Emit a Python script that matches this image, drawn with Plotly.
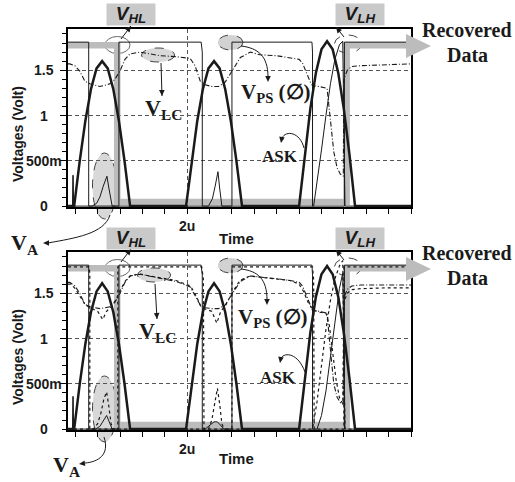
import math
import plotly.graph_objects as go

# ---------------- data (time in us, voltage in V) ----------------
ask_t = [0.935, 0.99, 1.04, 1.09, 1.14, 1.19, 1.24, 1.29, 1.34, 1.39, 1.44, 1.49,
         1.99, 2.04, 2.09, 2.14, 2.19, 2.24, 2.29, 2.34, 2.39, 2.44, 2.49,
         3.00, 3.05, 3.10, 3.15, 3.20, 3.25, 3.30, 3.35, 3.40, 3.45, 3.50, 4.0]
ask_top_v = [0, 0, 0.50, 0.94, 1.29, 1.52, 1.60, 1.52, 1.29, 0.94, 0.50, 0,
             0, 0.50, 0.94, 1.29, 1.52, 1.60, 1.52, 1.29, 0.94, 0.50, 0,
             0, 0.57, 1.07, 1.47, 1.73, 1.82, 1.73, 1.47, 1.07, 0.57, 0, 0]
ask_bot_v = [0, 0, 0.50, 0.94, 1.29, 1.52, 1.61, 1.52, 1.29, 0.94, 0.50, 0,
             0, 0.50, 0.94, 1.29, 1.52, 1.61, 1.52, 1.29, 0.94, 0.50, 0,
             0, 0.56, 1.06, 1.46, 1.71, 1.80, 1.71, 1.46, 1.06, 0.56, 0, 0]

# recovered data (grey highlight)
rec_t = [0.935, 1.375, 1.375, 3.425, 3.425, 3.99]
rec_v = [1.775, 1.775, 0.045, 0.045, 1.775, 1.775]

# comparator / phase-shift square signal
s1_t = [0.935, 1.12, 1.12, 1.39, 1.39, 2.125, 2.135, 2.135, 2.40, 2.40,
        3.115, 3.12, 3.12, 3.405, 3.405, 4.0]
s1_v = [1.81, 1.81, 0, 0, 1.81, 1.81, 1.70, 0, 0, 1.81,
        1.81, 1.70, 0, 0, 1.81, 1.81]
s1b_t = [0.935, 1.125, 1.13, 1.13, 1.38, 1.38, 2.13, 2.145, 2.15, 2.40, 2.40,
         3.12, 3.13, 3.135, 3.40, 3.40, 4.0]
s1b_v = [1.79, 1.79, 1.70, 0, 0, 1.79, 1.79, 1.65, 0, 0, 1.79,
         1.79, 1.65, 0, 0, 1.79, 1.79]

# V_LC
vlc_t = [0.935, 0.951, 0.996, 1.04, 1.085, 1.13, 1.22, 1.31, 1.354, 1.399, 1.444,
         1.489, 1.578, 1.758, 1.90, 2.027, 2.07, 2.117, 2.16, 2.22, 2.28, 2.34,
         2.40, 2.475, 2.565, 2.65, 2.80, 2.92, 3.00, 3.03, 3.07, 3.10, 3.12, 3.18,
         3.25, 3.27, 3.29, 3.31, 3.34, 3.37, 3.395, 3.40, 3.43, 3.47, 3.55, 3.80, 4.0]
vlc_top_v = [1.57, 1.57, 1.55, 1.49, 1.38, 1.35, 1.32, 1.35, 1.40, 1.49, 1.62,
             1.68, 1.70, 1.66, 1.65, 1.63, 1.55, 1.38, 1.34, 1.32, 1.32, 1.37,
             1.49, 1.64, 1.70, 1.67, 1.66, 1.64, 1.62, 1.58, 1.45, 1.37, 1.33, 1.32,
             1.30, 1.05, 0.80, 0.60, 0.42, 0.35, 0.33, 1.40, 1.50, 1.54, 1.55, 1.56, 1.57]
vlc_bot_v = [1.62, 1.62, 1.58, 1.50, 1.38, 1.35, 1.33, 1.35, 1.40, 1.50, 1.62,
             1.69, 1.71, 1.67, 1.63, 1.57, 1.48, 1.37, 1.34, 1.33, 1.33, 1.37,
             1.49, 1.63, 1.69, 1.68, 1.66, 1.64, 1.62, 1.58, 1.45, 1.36, 1.31, 1.30,
             1.28, 1.00, 0.72, 0.50, 0.35, 0.29, 0.27, 1.45, 1.54, 1.58, 1.59, 1.59, 1.59]
vlc2_t = [0.935, 0.96, 1.00, 1.05, 1.09, 1.15, 1.20, 1.245, 1.28, 1.32, 1.36, 1.40,
          1.45, 1.50, 1.58, 1.76, 1.90, 2.03, 2.08, 2.12, 2.17, 2.22, 2.265, 2.30,
          2.34, 2.40, 2.47, 2.56, 2.70, 2.92, 3.00, 3.04, 3.08, 3.12, 3.18, 3.24,
          3.27, 3.30, 3.33, 3.36, 3.39, 3.40, 3.43, 3.47, 3.55, 3.80, 4.0]
vlc2_bot_v = [1.60, 1.60, 1.55, 1.45, 1.37, 1.33, 1.30, 1.21, 1.30, 1.35, 1.42, 1.53,
              1.64, 1.70, 1.71, 1.67, 1.64, 1.58, 1.47, 1.36, 1.32, 1.30, 1.17, 1.30,
              1.36, 1.50, 1.64, 1.69, 1.67, 1.64, 1.60, 1.52, 1.40, 1.32, 1.29, 1.28,
              1.15, 0.85, 0.55, 0.35, 0.28, 1.40, 1.50, 1.54, 1.55, 1.56, 1.56]

# V_A
va_top_t = [0.935, 0.975, 0.978, 0.982, 0.985, 1.15, 1.19, 1.22, 1.25, 1.283, 1.30,
            1.32, 1.33, 2.19, 2.225, 2.25, 2.275, 2.29, 2.31, 3.13, 3.16, 3.20,
            3.24, 3.28, 3.32, 3.36, 3.39, 3.40, 3.41, 4.0]
va_top_v = [0, 0, 0.34, 0.34, 0, 0, 0.03, 0.10, 0.22, 0.33, 0.20,
            0.03, 0, 0, 0.08, 0.22, 0.38, 0.20, 0, 0, 0.25, 0.62,
            1.00, 1.35, 1.62, 1.78, 1.82, 0.90, 0, 0]
va_bot_t = [0.935, 0.975, 0.978, 0.982, 0.985, 1.18, 1.22, 1.25, 1.28, 1.30, 1.33,
            2.16, 2.20, 2.24, 2.27, 2.30, 2.33, 3.16, 3.20, 3.24, 3.28, 3.32,
            3.36, 3.39, 3.40, 3.41, 4.0]
va_bot_v = [0, 0, 0.36, 0.36, 0, 0, 0.03, 0.09, 0.15, 0.09, 0,
            0, 0.04, 0.08, 0.08, 0.04, 0, 0, 0.15, 0.42, 0.80, 1.20,
            1.55, 1.72, 0.90, 0, 0]
va2_bot_t = [0.935, 1.16, 1.20, 1.23, 1.255, 1.28, 1.30, 1.32, 1.34, 2.19, 2.22,
             2.245, 2.27, 2.29, 2.31, 2.33, 3.12, 3.16, 3.20, 3.24, 3.28, 3.32,
             3.36, 3.39, 3.40, 3.41, 4.0]
va2_bot_v = [0, 0, 0.06, 0.18, 0.33, 0.41, 0.25, 0.06, 0, 0, 0.10,
             0.30, 0.45, 0.28, 0.06, 0, 0, 0.30, 0.72, 1.10, 1.42, 1.66,
             1.80, 1.86, 0.90, 0, 0]

y_tick_vals = [0, 0.5, 1, 1.5]
y_tick_text = ["0", "500m", "1", "1.5"]
x_tick_vals = [2]
x_tick_text = ["2u"]

# ---------------- layout geometry ----------------
W, H = 515, 482
ML, MR, MT, MB = 68, 104, 29, 52
X_RANGE = [0.935, 4.0]
Y_RANGE = [-0.01, 1.955]
TOP_DOM = [0.5561, 1.0]
BOT_DOM = [0.0, 0.4439]
SANS = "Liberation Sans"
SERIF = "Liberation Serif"
INK = "#1a1a1a"
GREY = "#bcbcbc"


def px(xp):
    return (xp - ML) / (W - ML - MR)


def py(yp):
    return (H - MB - yp) / (H - MT - MB)


fig = go.Figure()


def add_line(t, v, ax, width=1.0, dash="solid", color=INK):
    fig.add_trace(go.Scatter(x=t, y=v, xaxis=ax[0], yaxis=ax[1], mode="lines",
                             line=dict(color=color, width=width, dash=dash),
                             showlegend=False, hoverinfo="skip"))


DASHDOT = "5px,2px,1px,2px"
for ax, ask_v, vlc_v in ((("x", "y"), ask_top_v, vlc_top_v),
                         (("x2", "y2"), ask_bot_v, vlc_bot_v)):
    add_line(rec_t, rec_v, ax, width=6.5, color=GREY)
    if ax[0] == "x2":
        add_line(vlc2_t, vlc2_bot_v, ax, width=1.2, dash="dot")
        add_line(va2_bot_t, va2_bot_v, ax, width=1.2, dash="dot")
        add_line(s1b_t, s1b_v, ax, width=1.2, dash="dot")
        add_line(va_bot_t, va_bot_v, ax, width=1.0)
    else:
        add_line(va_top_t, va_top_v, ax, width=1.0)
    add_line(vlc_t, vlc_v, ax, width=1.1, dash=DASHDOT)
    add_line(s1_t, s1_v, ax, width=1.0)
    add_line(ask_t, ask_v, ax, width=2.5)

xa = dict(range=X_RANGE, showline=True, mirror=True, linewidth=2, linecolor="black",
          ticks="outside", ticklen=5, tickwidth=1, tickcolor="black",
          tickmode="array", tickvals=x_tick_vals, ticktext=x_tick_text,
          tickfont=dict(family=SANS, size=14, color=INK, weight="bold"),
          showgrid=True, gridcolor="#555555", griddash="4px,3px", gridwidth=1,
          zeroline=False,
          minor=dict(tickmode="linear", tick0=0, dtick=0.2, ticks="outside",
                     ticklen=5, tickcolor="black", showgrid=False))
ya = dict(range=Y_RANGE, showline=True, mirror=True, linewidth=2, linecolor="black",
          ticks="outside", ticklen=6, tickwidth=1, tickcolor="black",
          tickmode="array", tickvals=y_tick_vals[1:], showticklabels=False,
          showgrid=True, gridcolor="#555555", griddash="4px,3px", gridwidth=1,
          zeroline=False,
          minor=dict(tickmode="linear", tick0=0, dtick=0.1, ticks="outside",
                     ticklen=4, tickcolor="black", showgrid=False))

fig.update_layout(
    width=W, height=H, margin=dict(l=ML, r=MR, t=MT, b=MB),
    paper_bgcolor="white", plot_bgcolor="rgba(0,0,0,0)", showlegend=False,
    xaxis=dict(xa, anchor="y"), yaxis=dict(ya, domain=TOP_DOM, anchor="x"),
    xaxis2=dict(xa, anchor="y2"), yaxis2=dict(ya, domain=BOT_DOM, anchor="x2"),
)

shapes = []
ann = []


def ellipse(cx, cy, w, h, fill=None, dash="dash", color="#444"):
    shapes.append(dict(type="circle", xref="paper", yref="paper",
                       x0=px(cx - w / 2), x1=px(cx + w / 2),
                       y0=py(cy + h / 2), y1=py(cy - h / 2),
                       fillcolor=fill if fill else "rgba(0,0,0,0)",
                       line=dict(color=color, width=1, dash=dash), layer="below"))


def text(xp, yp, s, size, family, angle=0):
    ann.append(dict(xref="paper", yref="paper", x=px(xp), y=py(yp), text=s,
                    showarrow=False, xanchor="center", yanchor="middle",
                    textangle=angle, font=dict(family=family, size=size, color=INK)))


def head(hx, hy, tx, ty, length=6.0, half=2.8):
    d = math.hypot(hx - tx, hy - ty)
    ux, uy = (hx - tx) / d, (hy - ty) / d
    bx, by = hx - ux * length, hy - uy * length
    p1 = (bx - uy * half, by + ux * half)
    p2 = (bx + uy * half, by - ux * half)
    shapes.append(dict(type="path", xref="paper", yref="paper",
                       path="M %f %f L %f %f L %f %f Z" % (
                           px(hx), py(hy), px(p1[0]), py(p1[1]), px(p2[0]), py(p2[1])),
                       fillcolor=INK, line=dict(width=0)))


def arrow(hx, hy, tx, ty):
    shapes.append(dict(type="line", xref="paper", yref="paper",
                       x0=px(tx), y0=py(ty), x1=px(hx), y1=py(hy),
                       line=dict(color=INK, width=1)))
    head(hx, hy, tx, ty)


def curve(pts):
    (x0, y0), (c1x, c1y), (c2x, c2y), (x1, y1) = pts
    p = "M %f %f C %f %f, %f %f, %f %f" % (px(x0), py(y0), px(c1x), py(c1y),
                                           px(c2x), py(c2y), px(x1), py(y1))
    shapes.append(dict(type="path", xref="paper", yref="paper", path=p,
                       line=dict(color=INK, width=1)))


for oy, panel in ((0, "top"), (223, "bot")):
    top = 29 + oy
    # ellipses
    ellipse(117.5, 45 + oy, 25, 17, dash="solid", color="#666")
    ellipse(104.5, 186 + oy, 24, 66, fill="#d8d8d8")
    ellipse(158 if panel == "top" else 154, 55 + oy if panel == "top" else 275, 33, 14,
            fill="#d8d8d8")
    ellipse(230.5, 42.5 + oy, 25, 15, fill="#d2d2d2")
    ellipse(348, 44 + oy, 27, 18)
    # grey arrow head of recovered data
    shapes.append(dict(type="path", xref="paper", yref="paper",
                       path="M %f %f L %f %f L %f %f Z" % (
                           px(406), py(34 + oy), px(406), py(58 + oy), px(431), py(46 + oy)),
                       fillcolor=GREY, line=dict(width=0), layer="above"))
    # label boxes
    for cx, lab in ((131, "HL"), (360, "LH")):
        ann.append(dict(xref="paper", yref="paper", x=px(cx), y=py(top - 14),
                        text="<b><i>V<sub>%s</sub></i></b>" % lab, showarrow=False,
                        xanchor="center", yanchor="middle", width=46, height=19,
                        bgcolor="#c9c9c9", borderpad=1,
                        font=dict(family=SANS, size=19, color=INK)))
    arrow(131, top - 3, 121, top + 10)
    arrow(336, top - 2, 344, top + 8)
    # recovered data text
    text(467, top + 1, "<b>Recovered</b>", 20, SERIF)
    text(467, top + 26, "<b>Data</b>", 20, SERIF)
    # axis titles and y tick labels
    text(18, 134 + oy, "<b>Voltages (Volt)</b>", 14, SANS, angle=-90)
    text(236, 238 + oy if panel == "top" else 458, "<b>Time</b>", 15, SANS)
    yr = "y" if panel == "top" else "y2"
    for v, s in zip(y_tick_vals, y_tick_text):
        ann.append(dict(xref="paper", yref=yr, x=px(44), y=v, text="<b>%s</b>" % s,
                        showarrow=False, xanchor="center", yanchor="middle",
                        font=dict(family=SANS, size=14, color=INK)))

# --- top panel labels ---
text(163, 109, "<b>V<sub>LC</sub></b>", 22, SERIF)
arrow(162, 96, 161, 63)
text(276, 93, "<b>V<sub>PS</sub> (\u2205)</b>", 21, SERIF)
curve([(241, 46), (258, 48), (268, 56), (268, 77)])
head(268, 82, 268, 76)
text(280, 156, "<b>ASK</b>", 17, SERIF)
curve([(304, 148), (300, 132), (286, 130), (282, 138)])
head(281, 143, 282, 137)
text(24, 244, "<b>V<sub>A</sub></b>", 22, SERIF)
curve([(110, 215), (104, 234), (75, 238), (48, 243)])
head(43, 243, 49, 243)

# --- bottom panel labels ---
text(157, 332, "<b>V<sub>LC</sub></b>", 22, SERIF)
arrow(157, 319, 155, 284)
text(273, 318, "<b>V<sub>PS</sub> (\u2205)</b>", 21, SERIF)
curve([(241, 269), (258, 271), (267, 279), (267, 300)])
head(267, 305, 267, 299)
text(278, 377, "<b>ASK</b>", 17, SERIF)
curve([(305, 372), (298, 353), (285, 352), (281, 358)])
head(280, 363, 281, 357)
text(66, 466, "<b>V<sub>A</sub></b>", 22, SERIF)
curve([(104, 437), (110, 455), (98, 462), (85, 463)])
head(79, 464, 86, 463)

fig.update_layout(shapes=shapes, annotations=ann)
fig.write_html("out.html", config={"displayModeBar": False},
               post_script="document.body.style.margin='0';")
